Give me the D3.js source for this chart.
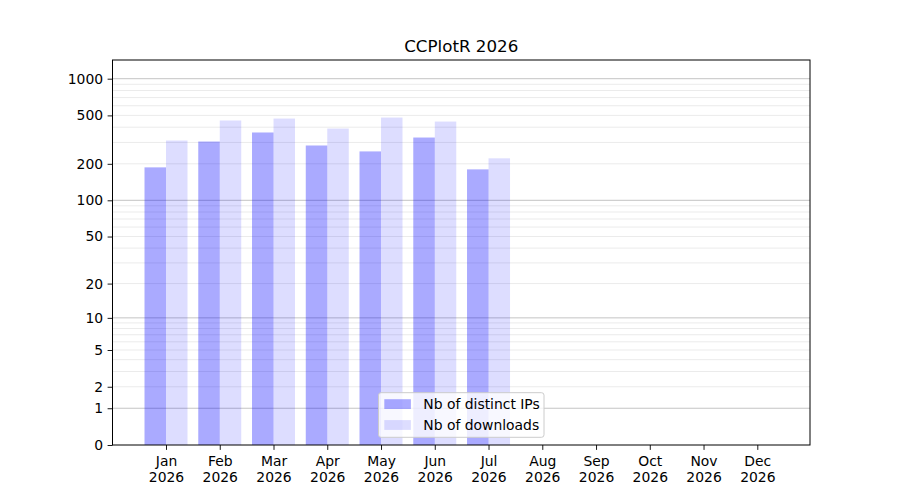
<!DOCTYPE html>
<html>
<head>
<meta charset="utf-8">
<script src="https://cdn.jsdelivr.net/npm/d3@7"></script>
<style>
  body { margin: 0; background: #fff; }
  text { font-family: "DejaVu Sans", sans-serif; fill: #000; }
</style>
</head>
<body>
<svg id="chart" width="900" height="500"></svg>
<script>
(function() {
  'use strict';

  // data
  const months = ['Jan', 'Feb', 'Mar', 'Apr', 'May', 'Jun', 'Jul', 'Aug', 'Sep', 'Oct', 'Nov', 'Dec'];
  const year = '2026';
  const distinctIPs = [187, 305, 362, 283, 253, 329, 180];
  const downloads = [311, 454, 471, 390, 480, 445, 222];
  const yTickValues = [0, 1, 2, 5, 10, 20, 50, 100, 200, 500, 1000];
  const majorGrid = [1, 10, 100, 1000];
  const minorGrid = [1, 10, 100].flatMap(d => d3.range(2, 10).map(m => m * d));
  const seriesNames = ['Nb of distinct IPs', 'Nb of downloads'];

  const svg = d3.select('#chart');
  const left = 112.5, right = 810, top = 60, bottom = 445;
  const barW = 0.4;

  // x: month index, equally spaced
  const x = d3.scaleLinear().domain([0, 11]).range([166, 757.3]);

  // y: log10(v + 1)
  const yT = d3.scaleLinear().domain([0, 3.1536]).range([bottom, top]);
  const tf = v => Math.log10(v + 1);
  const y = v => yT(tf(v));

  // grid
  const grid = svg.append('g');
  grid.selectAll('line.minor')
    .data(minorGrid)
    .enter().append('line')
    .attr('class', 'minor')
    .attr('x1', left).attr('x2', right)
    .attr('y1', d => y(d)).attr('y2', d => y(d))
    .attr('stroke', '#ebebeb')
    .attr('stroke-width', 1);
  grid.selectAll('line.major')
    .data(majorGrid)
    .enter().append('line')
    .attr('class', 'major')
    .attr('x1', left).attr('x2', right)
    .attr('y1', d => y(d)).attr('y2', d => y(d))
    .attr('stroke', '#c4c4c4')
    .attr('stroke-width', 1);

  // bars
  svg.append('g').selectAll('rect')
    .data(distinctIPs)
    .enter().append('rect')
    .attr('x', (d, i) => x(i - barW))
    .attr('width', (d, i) => x(i) - x(i - barW))
    .attr('y', d => y(d))
    .attr('height', d => bottom - y(d))
    .attr('fill', 'blue')
    .attr('fill-opacity', 0.333);

  svg.append('g').selectAll('rect')
    .data(downloads)
    .enter().append('rect')
    .attr('x', (d, i) => x(i))
    .attr('width', (d, i) => x(i + barW) - x(i))
    .attr('y', d => y(d))
    .attr('height', d => bottom - y(d))
    .attr('fill', 'blue')
    .attr('fill-opacity', 0.133);

  // y axis
  const yAxis = d3.axisLeft(yT)
    .tickValues(yTickValues.map(tf))
    .tickFormat((d, i) => yTickValues[i])
    .tickSize(4.9)
    .tickPadding(4.5);
  const gy = svg.append('g')
    .attr('transform', `translate(${left},0)`)
    .call(yAxis);
  gy.select('.domain').remove();
  gy.selectAll('line').attr('stroke', '#000').attr('stroke-width', 0.9);
  gy.selectAll('text')
    .style('font-size', '13.9px')
    .attr('fill', '#000');

  // x axis
  const xAxis = d3.axisBottom(x)
    .tickValues(d3.range(months.length))
    .tickFormat('')
    .tickSize(4.9);
  const gx = svg.append('g')
    .attr('transform', `translate(0,${bottom})`)
    .call(xAxis);
  gx.select('.domain').remove();
  gx.selectAll('line').attr('stroke', '#000').attr('stroke-width', 0.9);
  gx.selectAll('.tick').each(function(d) {
    const t = d3.select(this).append('text')
      .attr('text-anchor', 'middle')
      .attr('fill', '#000')
      .style('font-size', '13.9px');
    t.append('tspan').attr('x', 0).attr('y', 20.5).text(months[d]);
    t.append('tspan').attr('x', 0).attr('y', 37).text(year);
  });

  // frame
  svg.append('rect')
    .attr('x', left).attr('y', top)
    .attr('width', right - left).attr('height', bottom - top)
    .attr('fill', 'none')
    .attr('stroke', '#000')
    .attr('stroke-width', 1);

  // title
  svg.append('text')
    .attr('x', (left + right) / 2)
    .attr('y', 51.5)
    .attr('text-anchor', 'middle')
    .style('font-size', '16.7px')
    .text('CCPlotR 2026');

  // legend
  const lg = svg.append('g');
  lg.append('rect')
    .attr('x', 378.5).attr('y', 392.7)
    .attr('width', 165.5).attr('height', 44.6)
    .attr('rx', 2.5)
    .attr('fill', '#fff').attr('fill-opacity', 0.8)
    .attr('stroke', '#cccccc').attr('stroke-width', 1);
  const opac = [0.333, 0.133];
  seriesNames.forEach((name, i) => {
    lg.append('rect')
      .attr('x', 384.3).attr('y', 399.2 + i * 20.9)
      .attr('width', 26.6).attr('height', 9.8)
      .attr('fill', 'blue').attr('fill-opacity', opac[i]);
    lg.append('text')
      .attr('x', 423.3).attr('y', 408.8 + i * 20.9)
      .style('font-size', '13.9px')
      .text(name);
  });
})();
</script>
</body>
</html>
